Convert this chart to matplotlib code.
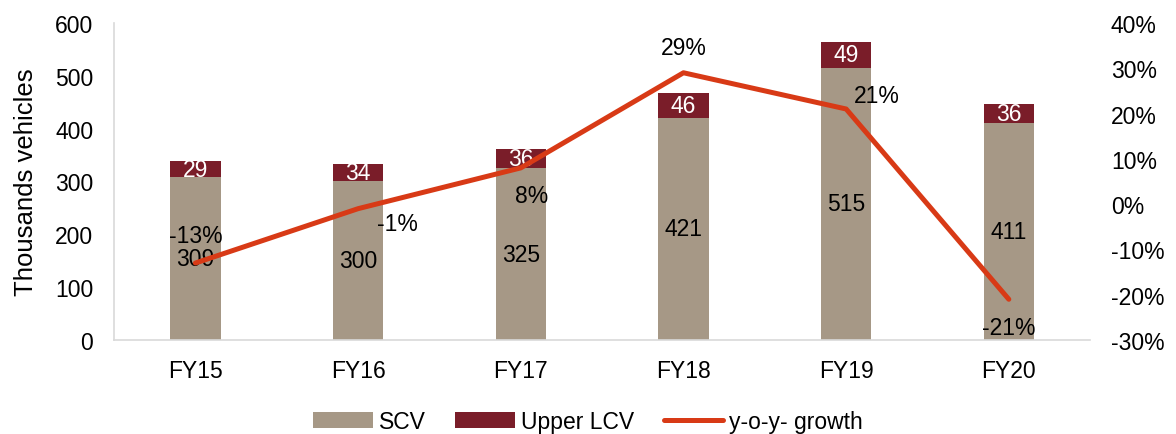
import matplotlib
matplotlib.use("Agg")
import matplotlib.pyplot as plt
from matplotlib.ticker import FuncFormatter

plt.rcParams['font.family'] = ['Liberation Sans', 'DejaVu Sans']

years = ["FY15", "FY16", "FY17", "FY18", "FY19", "FY20"]
scv = [309, 300, 325, 421, 515, 411]
upper_lcv = [29, 34, 36, 46, 49, 36]
growth = [-13, -1, 8, 29, 21, -21]
growth_labels = ["-13%", "-1%", "8%", "29%", "21%", "-21%"]
# label offsets (points) for growth labels
growth_offsets = [(0, 20), (28, -11), (8, -20), (0, 18), (22, 10), (0, -20)]

c_scv = "#A69886"
c_lcv = "#7A1D29"
c_line = "#D83A16"

FS = 16.5

fig = plt.figure(figsize=(11.76, 4.35), dpi=100)
ax = fig.add_axes([0.097, 0.216, 0.83, 0.729])
x = list(range(len(years)))
w = 0.31
b1 = ax.bar(x, scv, width=w, color=c_scv, label="SCV", zorder=2)
b2 = ax.bar(x, upper_lcv, width=w, bottom=scv, color=c_lcv, label="Upper LCV", zorder=2)

for i in x:
    ax.text(i, scv[i] / 2, str(scv[i]), ha="center", va="center", fontsize=FS, color="black", zorder=3)
    ax.text(i, scv[i] + upper_lcv[i] / 2, str(upper_lcv[i]), ha="center", va="center",
            fontsize=FS, color="white", zorder=3)

ax.set_ylim(0, 600)
ax.set_xlim(-0.5, len(years) - 0.5)
ax.set_yticks(range(0, 601, 100))
ax.set_xticks(x)
ax.set_xticklabels(years)
ax.tick_params(axis="x", length=0, labelsize=FS, pad=14)
ax.tick_params(axis="y", length=0, labelsize=FS, pad=15)
ax.set_ylabel("Thousands vehicles", fontsize=18.5, labelpad=12)
for s in ["top", "right"]:
    ax.spines[s].set_visible(False)
ax.spines["left"].set_color("#D9D9D9")
ax.spines["bottom"].set_color("#D9D9D9")
ax.spines["left"].set_linewidth(1.2)
ax.spines["bottom"].set_linewidth(1.2)

ax2 = ax.twinx()
ln, = ax2.plot(x, growth, color=c_line, lw=3.6, solid_capstyle="round",
               solid_joinstyle="round", label="y-o-y- growth", zorder=4)
ax2.set_ylim(-30, 40)
ax2.set_yticks(range(-30, 41, 10))
ax2.yaxis.set_major_formatter(FuncFormatter(lambda v, p: f"{int(v)}%"))
ax2.tick_params(axis="y", length=0, labelsize=FS, pad=15)
for s in ax2.spines.values():
    s.set_visible(False)

for i in x:
    ax2.annotate(growth_labels[i], (i, growth[i]), xytext=growth_offsets[i],
                 textcoords="offset points", ha="center", va="center", fontsize=FS, color="black")

fig.legend(handles=[b1, b2, ln], labels=["SCV", "Upper LCV", "y-o-y- growth"],
           loc="lower center", bbox_to_anchor=(0.5, -0.045), ncol=3, frameon=False,
           fontsize=FS, handlelength=2.6, handleheight=0.7, columnspacing=1.3, handletextpad=0.25)

fig.savefig("out.png", dpi=100)
